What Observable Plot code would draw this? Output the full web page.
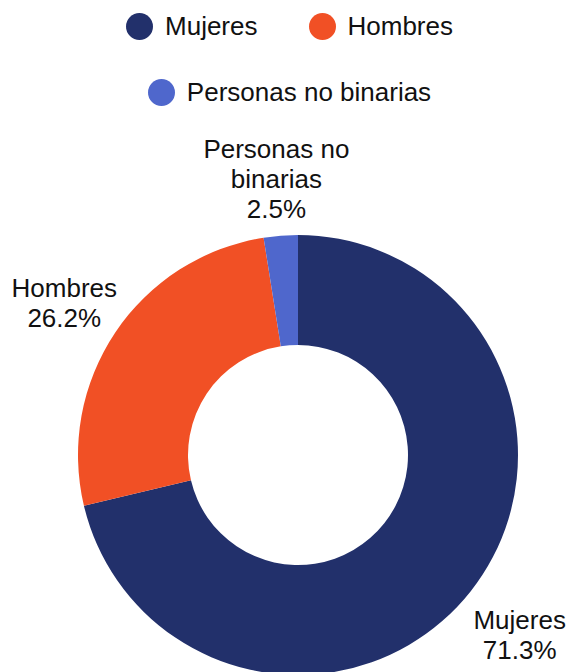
<!DOCTYPE html>
<html>
<head>
<meta charset="utf-8">
<script src="https://cdn.jsdelivr.net/npm/d3@7"></script>
<script src="https://cdn.jsdelivr.net/npm/@observablehq/plot@0.6"></script>
<style>
  html, body { margin: 0; padding: 0; background: #fff; }
  body { width: 576px; height: 672px; overflow: hidden; font-family: "Liberation Sans", Arial, sans-serif; }
  #legend {
    height: 120px; box-sizing: border-box; padding: 13px 0 0 3px;
    display: flex; flex-wrap: wrap; justify-content: center; align-content: flex-start;
    column-gap: 51px; row-gap: 39px;
  }
  .item { display: flex; align-items: center; height: 27px; font-size: 26px; color: #111; white-space: nowrap; }
  .sw { width: 27px; height: 27px; border-radius: 50%; margin-right: 12px; flex: none; }
</style>
</head>
<body>
<div id="legend"></div>
<div id="chart"></div>
<script>
const categories = ["Mujeres", "Hombres", "Personas no binarias"];
const values = [71.3, 26.2, 2.5];
const labelText = ["Mujeres", "Hombres", "Personas no\nbinarias"];
const colors = ["#22306b", "#f15025", "#4f67cc"];

const color = Plot.scale({color: {domain: categories, range: colors}});

const data = categories.map((c, i) => ({category: c, value: values[i], label: labelText[i]}));

// Legend
const legend = document.getElementById("legend");
categories.forEach((c) => {
  const it = document.createElement("div");
  it.className = "item";
  const sw = document.createElement("span");
  sw.className = "sw";
  sw.style.background = color.apply(c);
  it.appendChild(sw);
  it.appendChild(document.createTextNode(c));
  legend.appendChild(it);
});

const pie = d3.pie().sort(null).value(d => d.value).startAngle(0).endAngle(2 * Math.PI);
const arcs = pie(data);
const outerR = 220, innerR = 110, labelR = 282;

const labels = arcs.map(a => {
  const mid = (a.startAngle + a.endAngle) / 2;
  return {
    x: labelR * Math.sin(mid),
    y: labelR * Math.cos(mid),
    text: `${a.data.label}\n${d3.format(".1f")(a.data.value)}%`
  };
});

const W = 576, H = 552;
const chart = Plot.plot({
  width: W,
  height: H,
  margin: 0,
  x: {domain: [-298, W - 298], range: [0, W], axis: null},
  y: {domain: [335, 335 - H], range: [0, H], axis: null},
  style: {fontFamily: "'Liberation Sans', Arial, sans-serif", background: "#fff"},
  marks: [
    (index, scales) => {
      const cx = scales.x(0), cy = scales.y(0);
      const ro = scales.x(outerR) - cx, ri = scales.x(innerR) - cx;
      const arc = d3.arc().innerRadius(ri).outerRadius(ro);
      const g = d3.create("svg:g").attr("transform", `translate(${cx},${cy})`);
      g.selectAll("path").data(arcs).join("path")
        .attr("d", arc)
        .attr("fill", d => color.apply(d.data.category));
      return g.node();
    },
    Plot.text(labels, {
      x: "x", y: "y", text: "text", dy: 4,
      fontSize: 26, lineHeight: 1.15, fill: "#111",
      textAnchor: "middle", lineAnchor: "middle"
    })
  ]
});
document.getElementById("chart").appendChild(chart);
</script>
</body>
</html>
